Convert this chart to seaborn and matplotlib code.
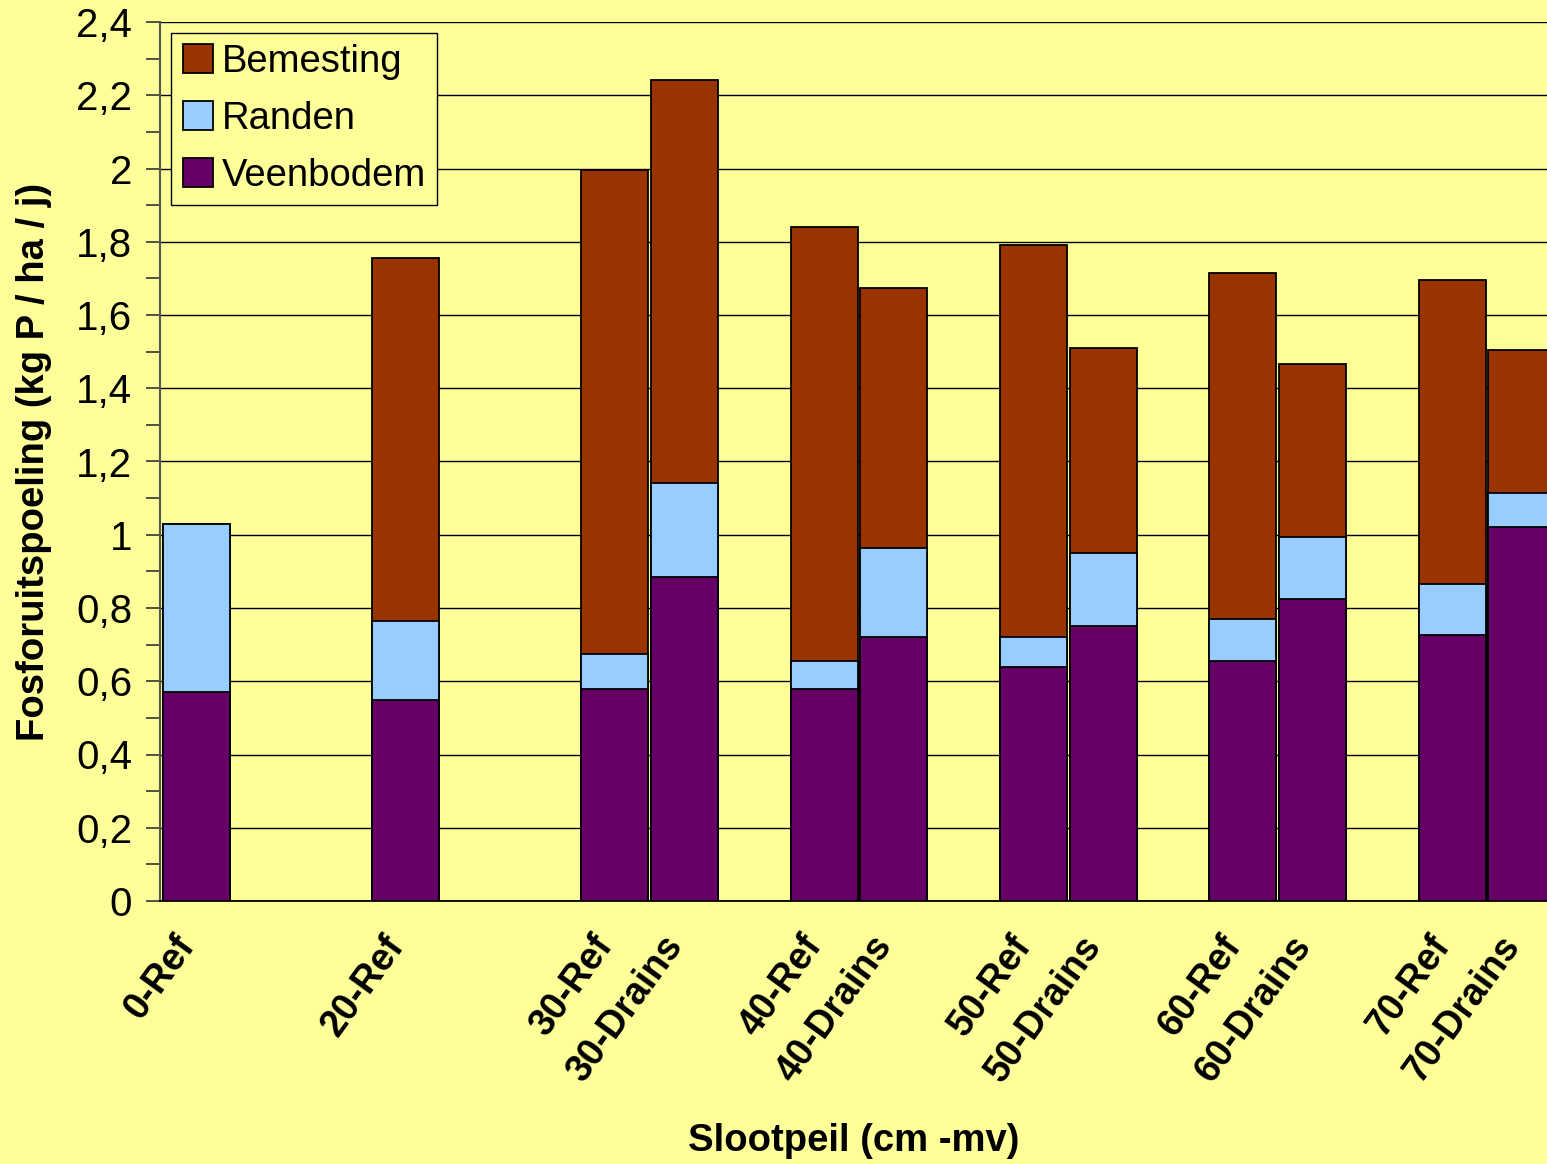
import numpy as np
import pandas as pd
import matplotlib
matplotlib.use("Agg")
import matplotlib.pyplot as plt
import matplotlib.transforms as mtransforms
import seaborn as sns
from matplotlib.ticker import MultipleLocator, FuncFormatter

# ---- data -------------------------------------------------------------
categories = ["0-Ref", "20-Ref", "30-Ref", "30-Drains", "40-Ref", "40-Drains",
              "50-Ref", "50-Drains", "60-Ref", "60-Drains", "70-Ref", "70-Drains"]
veenbodem = [0.57, 0.55, 0.58, 0.885, 0.58, 0.72, 0.64, 0.75, 0.655, 0.825, 0.725, 1.02]
randen    = [0.46, 0.215, 0.095, 0.256, 0.075, 0.245, 0.08, 0.20, 0.115, 0.17, 0.14, 0.095]
bemesting = [0.0, 0.99, 1.32, 1.10, 1.185, 0.71, 1.07, 0.56, 0.945, 0.47, 0.83, 0.39]

# ---- layout: each depth group gets 3 slots (Ref, Drains, gap) ----------
groups = []
for c in categories:
    g = c.split("-")[0]
    if g not in groups:
        groups.append(g)
slots = [groups.index(c.split("-")[0]) * 3 + (0 if c.endswith("Ref") else 1)
         for c in categories]

df = pd.DataFrame({
    "slot": slots,
    "cat": categories,
    "Veenbodem": veenbodem,
    "Randen": randen,
    "Bemesting": bemesting,
})
df["cum_vr"] = df["Veenbodem"] + df["Randen"]
df["cum_all"] = df["cum_vr"] + df["Bemesting"]

BG = "#FFFF99"
C_BEM = "#993300"
C_RAN = "#99CCFF"
C_VEEN = "#660066"

sns.set_style("white")
plt.rcParams["font.family"] = ["Liberation Sans", "DejaVu Sans"]
plt.rcParams["text.color"] = "black"
plt.rcParams["axes.labelcolor"] = "black"
plt.rcParams["xtick.color"] = "black"
plt.rcParams["ytick.color"] = "black"

fig = plt.figure(figsize=(15.47, 11.64), dpi=100, facecolor=BG)
ax = fig.add_axes([160 / 1547, 1 - 901 / 1164, 1 - 160 / 1547, (901 - 22) / 1164])
ax.set_facecolor(BG)

bar_kw = dict(native_scale=True, width=0.96, errorbar=None,
              edgecolor="black", linewidth=1.3, ax=ax, zorder=3)
sns.barplot(data=df, x="slot", y="cum_all", color=C_BEM, saturation=1,
            label="Bemesting", **bar_kw)
sns.barplot(data=df, x="slot", y="cum_vr", color=C_RAN, saturation=1,
            label="Randen", **bar_kw)
sns.barplot(data=df, x="slot", y="Veenbodem", color=C_VEEN, saturation=1,
            label="Veenbodem", **bar_kw)

ax.set_xlim(-0.52, 19.36)
ax.set_ylim(0, 2.4)

ax.yaxis.set_major_locator(MultipleLocator(0.2))
ax.yaxis.set_minor_locator(MultipleLocator(0.1))


def fmt(v, pos):
    if abs(v - round(v)) < 1e-9:
        return str(int(round(v)))
    return f"{v:.1f}".replace(".", ",")


ax.yaxis.set_major_formatter(FuncFormatter(fmt))
ax.grid(axis="y", which="major", color="black", linewidth=1.0, zorder=0)
ax.grid(axis="x", visible=False)
ax.set_axisbelow(True)

ax.set_xticks(slots)
ax.set_xticklabels(categories, rotation=54, ha="right", va="center",
                   rotation_mode="anchor", fontsize=27, fontweight="bold")
ax.tick_params(axis="x", length=0, pad=24)
shift = mtransforms.ScaledTranslation(-9 / 100, -5 / 100, fig.dpi_scale_trans)
for lab in ax.get_xticklabels():
    lab.set_transform(lab.get_transform() + shift)
ax.tick_params(axis="y", which="both", direction="out", length=10, width=1.2,
               color="#333333", labelsize=29, pad=10, left=True)

for s in ["top", "right"]:
    ax.spines[s].set_visible(False)
ax.spines["left"].set_color("#555555")
ax.spines["left"].set_linewidth(1.5)
ax.spines["bottom"].set_color("black")
ax.spines["bottom"].set_linewidth(1.3)

ax.set_xlabel("Slootpeil (cm -mv)", fontsize=27.5, fontweight="bold")
ax.set_ylabel("Fosforuitspoeling (kg P / ha / j)", fontsize=27.5, fontweight="bold")
ax.xaxis.set_label_coords(0.5, -0.252)
ax.yaxis.set_label_coords(-0.078, 0.5)

leg = ax.legend(loc="upper left", bbox_to_anchor=(0.008, 0.988),
                borderaxespad=0, fontsize=27.5, frameon=True, fancybox=False,
                handlelength=0.8, handleheight=0.8, handletextpad=0.22,
                labelspacing=0.55, borderpad=0.3)
leg.get_frame().set_facecolor(BG)
leg.get_frame().set_edgecolor("black")
leg.get_frame().set_linewidth(1.0)
leg.get_frame().set_alpha(1)
for h in leg.legend_handles:
    h.set_edgecolor("black")
    h.set_linewidth(1.3)

fig.savefig("out.png", dpi=100, facecolor=BG)
